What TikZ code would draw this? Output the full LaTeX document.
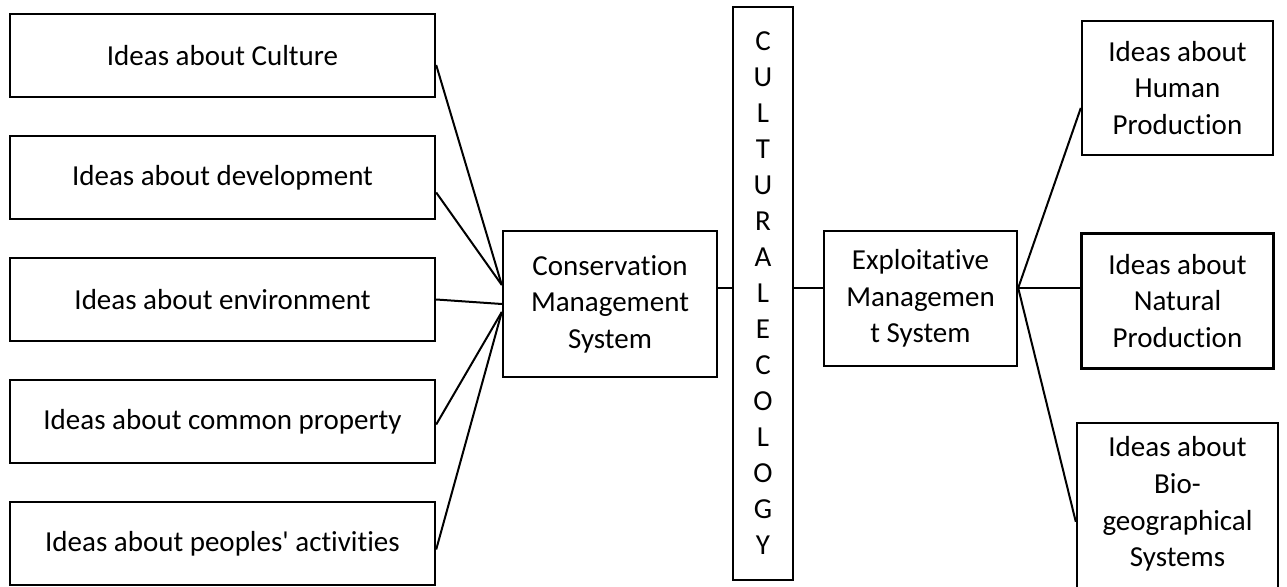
\documentclass[tikz,border=0pt]{standalone}
\usepackage{fontspec}
\setmainfont{Carlito}[Ligatures=NoCommon]
\usetikzlibrary{positioning}

\begin{document}
\begin{tikzpicture}[
    x=0.5pt, y=-0.5pt,
    node distance=18.3pt,
    box/.style={
        rectangle,
        draw=black,
        line width=1.2pt,
        align=center,
        inner sep=2pt,
        font=\fontsize{14.5pt}{18.3pt}\selectfont
    },
    idea/.style={
        box,
        minimum width=212.5pt,
        minimum height=41.5pt
    },
    sysbox/.style={
        box,
        minimum height=67.5pt
    },
    link/.style={line width=1pt},
]
\useasboundingbox (0,0) rectangle (1287,587);

% left column
\node[idea] at (222.5,55.5) (culture) {Ideas about Culture};
\node[idea, below=of culture] (devel) {Ideas about development};
\node[idea, below=of devel] (environ) {Ideas about environment};
\node[idea, below=of environ] (property) {Ideas about common property};
\node[idea, below=of property] (activity) {Ideas about peoples\textquotesingle\ activities};

% middle
\node[sysbox, minimum width=107pt, minimum height=73pt] at (610,304) (cons)
    {Conservation\\Management\\System};
\node[box, minimum width=30pt, minimum height=286.5pt,
    font=\fontsize{14.5pt}{18pt}\selectfont] at (763,293.5) (eco)
    {C\\U\\L\\T\\U\\R\\A\\L\\E\\C\\O\\L\\O\\G\\Y};
\node[sysbox, minimum width=96.5pt] at (920.5,298.5) (expl)
    {Exploitative\\Managemen\\t System};

% right column
\node[box, minimum width=95.5pt, minimum height=67pt] at (1177.5,88) (human)
    {Ideas about\\Human\\Production};
\node[box, minimum width=96pt, minimum height=67.5pt, below=38pt of human] (natural)
    {Ideas about\\Natural\\Production};
\node[box, minimum width=100.5pt, minimum height=91pt, text depth=12pt,
    below=26pt of natural] (bio)
    {Ideas about\\Bio-\\geographical\\Systems};

% connectors
\coordinate (hub) at (0,288);
\coordinate (cup) at ([yshift=9.5pt]cons.west);
\coordinate (clow) at ([yshift=-4pt]cons.west);

\draw[link] ([yshift=-4.75pt]culture.east) -- (cup);
\draw[link] ([yshift=-7.5pt]devel.east) -- (cup);
\draw[link] (environ.east) -- (cons.west);
\draw[link] ([yshift=-1.5pt]property.east) -- (clow);
\draw[link] ([yshift=-3pt]activity.east) -- (clow);

\draw[link] (cons.east |- hub) -- (eco.west |- hub);
\draw[link] (eco.east |- hub) -- (expl.west |- hub);

\draw[link] (expl.east |- hub) -- ([yshift=-10pt]human.west);
\draw[link] (expl.east |- hub) -- (natural.west |- hub);
\draw[link] (expl.east |- hub) -- ([yshift=-4pt]bio.west);

\end{tikzpicture}
\end{document}
